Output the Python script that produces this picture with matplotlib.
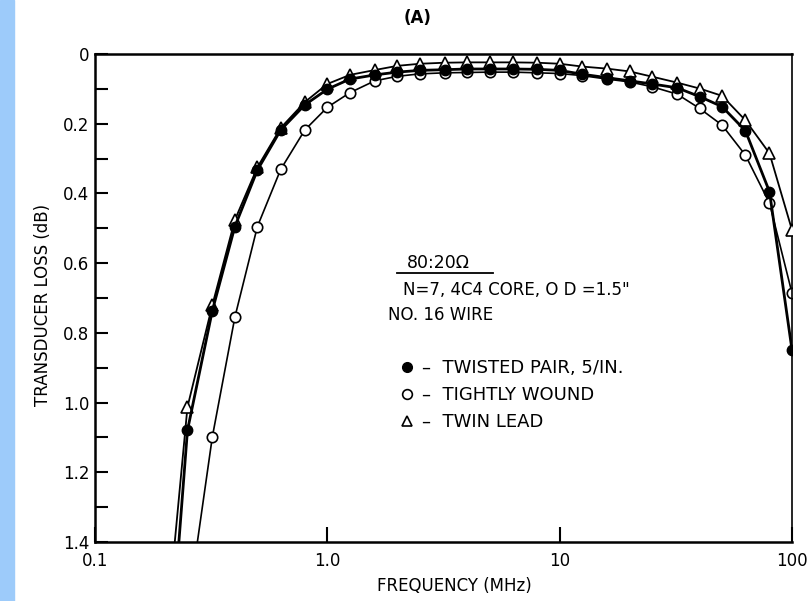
import matplotlib.pyplot as plt
from matplotlib.lines import Line2D
from matplotlib.patches import Rectangle

plt.rcParams['font.family'] = ['DejaVu Sans']

# frequencies in MHz (1/10 decade steps)
freq = [0.2, 0.25, 0.32, 0.4, 0.5, 0.63, 0.8, 1.0, 1.25, 1.6, 2.0, 2.5, 3.2, 4.0,
        5.0, 6.3, 8.0, 10, 12.5, 16, 20, 25, 32, 40, 50, 63, 80, 100]

# transducer loss (dB), first value of each runs off the bottom of the chart
twisted_pair = [1.92, 1.08, 0.736, 0.495, 0.333, 0.218, 0.146, 0.101, 0.072, 0.060,
                0.052, 0.047, 0.045, 0.043, 0.043, 0.043, 0.044, 0.047, 0.058, 0.068,
                0.077, 0.086, 0.097, 0.122, 0.151, 0.220, 0.395, 0.849]
tightly_wound = [None, 1.60, 1.098, 0.755, 0.495, 0.331, 0.218, 0.153, 0.111, 0.077,
                 0.064, 0.057, 0.054, 0.053, 0.052, 0.052, 0.054, 0.056, 0.062, 0.072,
                 0.080, 0.094, 0.115, 0.156, 0.204, 0.290, 0.428, 0.686]
twin_lead = [1.70, 1.013, 0.72, 0.476, 0.325, 0.212, 0.138, 0.086, 0.060, 0.046,
             0.034, 0.028, 0.025, 0.024, 0.024, 0.024, 0.025, 0.028, 0.036, 0.042,
             0.050, 0.065, 0.082, 0.099, 0.120, 0.190, 0.285, 0.505]

x_ticks = [0.1, 1.0, 10, 100]
x_ticklabels = ['0.1', '1.0', '10', '100']
y_ticks = [0, 0.2, 0.4, 0.6, 0.8, 1.0, 1.2, 1.4]
y_ticklabels = ['0', '0.2', '0.4', '0.6', '0.8', '1.0', '1.2', '1.4']
y_minor = [0.1, 0.3, 0.5, 0.7, 0.9, 1.1, 1.3]

fig = plt.figure(figsize=(8.12, 6.01), dpi=100)
fig.patches.append(Rectangle((0, 0), 14 / 812, 1, transform=fig.transFigure,
                             color='#9dcbfa', zorder=0))
ax = fig.add_axes([95 / 812, 59 / 601, 697 / 812, 488 / 601])

tw_f = [f for f, v in zip(freq, tightly_wound) if v is not None]
tw_v = [v for v in tightly_wound if v is not None]

ax.plot(tw_f, tw_v, color='black', lw=1.2, marker='o', ms=7.5, mfc='white',
        mec='black', mew=1.2, zorder=2)
ax.plot(freq, twin_lead, color='black', lw=1.3, marker='^', ms=8, mfc='white',
        mec='black', mew=1.2, zorder=3)
ax.plot(freq, twisted_pair, color='black', lw=2.0, marker='o', ms=7.5, mfc='black',
        mec='black', zorder=4)

ax.set_xscale('log')
ax.set_xlim(0.1, 100)
ax.set_ylim(1.4, 0)
ax.set_xticks(x_ticks)
ax.set_xticklabels(x_ticklabels)
ax.xaxis.set_minor_locator(plt.NullLocator())
ax.set_yticks(y_ticks)
ax.set_yticklabels(y_ticklabels)
ax.set_yticks(y_minor, minor=True)
ax.tick_params(axis='x', which='major', direction='in', length=11, width=1.5,
               labelsize=12, pad=7)
ax.tick_params(axis='y', which='both', direction='in', length=9, width=1.5,
               labelsize=12, pad=4)

for side in ['left', 'bottom', 'top']:
    ax.spines[side].set_linewidth(1.8)
ax.spines['right'].set_linewidth(1.2)

ax.set_xlabel('FREQUENCY (MHz)', fontsize=12)
ax.xaxis.set_label_coords(0.516, -0.072)
ax.set_ylabel('TRANSDUCER LOSS (dB)', fontsize=12)
ax.yaxis.set_label_coords(-0.062, 0.486)

fig.text(418 / 812, 1 - 18 / 601, '(A)', ha='center', va='center', fontsize=12,
         fontweight='bold')

# annotation block
ax.text(0.4476, 0.571, '80:20\u03a9', transform=ax.transAxes, fontsize=12.5,
        va='center', ha='left')
ax.plot([0.4333, 0.5710], [0.551, 0.551], transform=ax.transAxes, color='black',
        lw=1.3, clip_on=False)
ax.text(0.4418, 0.516, 'N=7, 4C4 CORE, O D =1.5"', transform=ax.transAxes,
        fontsize=12, va='center', ha='left')
ax.text(0.4203, 0.465, 'NO. 16 WIRE', transform=ax.transAxes, fontsize=12,
        va='center', ha='left')

handles = [
    Line2D([], [], ls='none', marker='o', ms=7, mfc='black', mec='black'),
    Line2D([], [], ls='none', marker='o', ms=7, mfc='white', mec='black', mew=1.2),
    Line2D([], [], ls='none', marker='^', ms=7.5, mfc='white', mec='black', mew=1.2),
]
labels = ['\u2013  TWISTED PAIR, 5/IN.', '\u2013  TIGHTLY WOUND', '\u2013  TWIN LEAD']
ax.legend(handles, labels, loc='upper left', bbox_to_anchor=(0.4376, 0.374),
          frameon=False, fontsize=13, handlelength=0.8, handletextpad=0.4,
          labelspacing=0.48, borderpad=0, borderaxespad=0)

fig.savefig('out.png', dpi=100)
